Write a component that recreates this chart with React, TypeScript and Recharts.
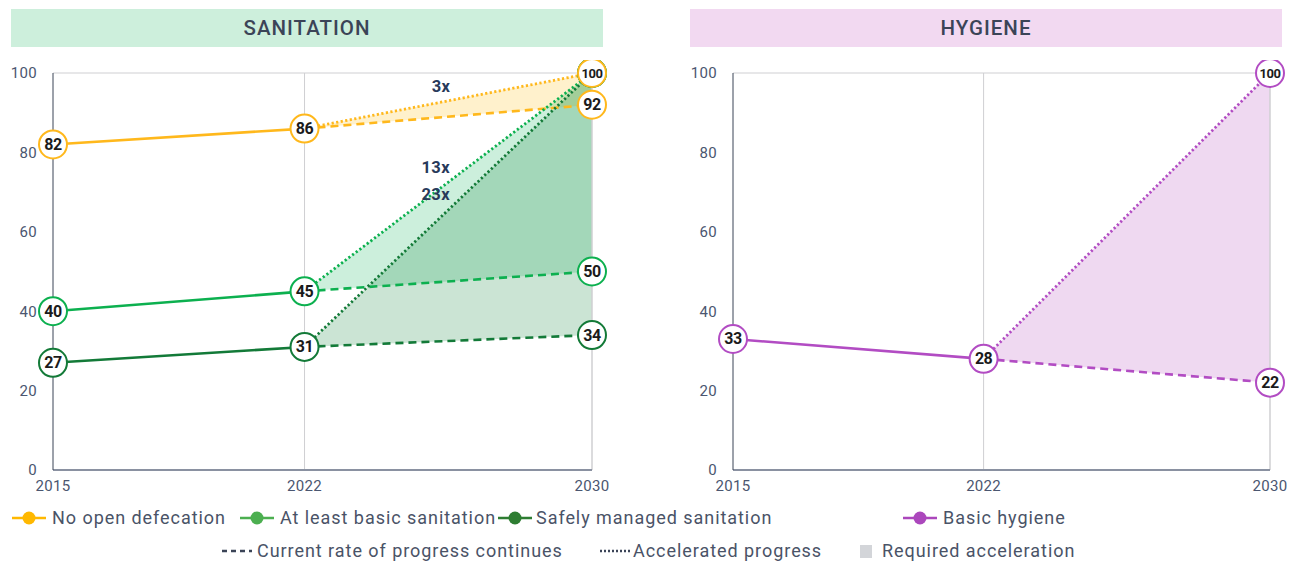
import React from 'react';
import {
  ComposedChart,
  Line,
  Area,
  XAxis,
  YAxis,
  ReferenceLine,
  ReferenceDot,
} from 'recharts';

// ---- data -------------------------------------------------------------
const years = [2015, 2022, 2030];
const yTicks = [0, 20, 40, 60, 80, 100];

// Sanitation (% of population)
const noOpenDefecation = [82, 86, null];
const noOpenDefecationCurrent = [null, 86, 92];
const noOpenDefecationAccelerated = [null, 86, 100];

const basicSanitation = [40, 45, null];
const basicSanitationCurrent = [null, 45, 50];
const basicSanitationAccelerated = [null, 45, 100];

const safelyManaged = [27, 31, null];
const safelyManagedCurrent = [null, 31, 34];
const safelyManagedAccelerated = [null, 31, 100];

// Hygiene (% of population)
const basicHygiene = [33, 28, null];
const basicHygieneCurrent = [null, 28, 22];
const basicHygieneAccelerated = [null, 28, 100];

// Required acceleration multipliers, placed in data coordinates
const sanitationMultipliers = [
  { text: '3x', year: 2025.8, value: 96.5 },
  { text: '13x', year: 2025.65, value: 76.3 },
  { text: '23x', year: 2025.65, value: 69.5 },
];

// ---- styling ----------------------------------------------------------
const FONT = 'Roboto, "Noto Sans", sans-serif';
const TICK_COLOR = '#4b5670';
const TEXT_COLOR = '#4a5367';

type Series = {
  color: string;
  fill: string;
  fillOpacity: number;
  actual: (number | null)[];
  current: (number | null)[];
  accelerated: (number | null)[];
};

const sanitationSeries: Series[] = [
  {
    color: '#FFB81C',
    fill: '#FFB800',
    fillOpacity: 0.2,
    actual: noOpenDefecation,
    current: noOpenDefecationCurrent,
    accelerated: noOpenDefecationAccelerated,
  },
  {
    color: '#0CB04F',
    fill: '#00B050',
    fillOpacity: 0.2,
    actual: basicSanitation,
    current: basicSanitationCurrent,
    accelerated: basicSanitationAccelerated,
  },
  {
    color: '#137A38',
    fill: '#1E8C45',
    fillOpacity: 0.23,
    actual: safelyManaged,
    current: safelyManagedCurrent,
    accelerated: safelyManagedAccelerated,
  },
];

const hygieneSeries: Series[] = [
  {
    color: '#B24CC3',
    fill: '#B450C0',
    fillOpacity: 0.22,
    actual: basicHygiene,
    current: basicHygieneCurrent,
    accelerated: basicHygieneAccelerated,
  },
];

function buildRows(series: Series[]) {
  return years.map((year, i) => {
    const row: Record<string, any> = { year };
    series.forEach((s, k) => {
      row[`a${k}`] = s.actual[i];
      row[`c${k}`] = s.current[i];
      row[`x${k}`] = s.accelerated[i];
      const lo = s.current[i];
      const hi = s.accelerated[i];
      row[`b${k}`] = lo != null && hi != null ? [lo, hi] : null;
    });
    return row;
  });
}

// Circled value marker, shown only for the given years
const makeDot = (color: string, shownYears: number[]) => (props: any) => {
  const { cx, cy, payload, value, index } = props;
  if (value == null || cx == null || !shownYears.includes(payload.year)) {
    return <g key={`d-${index}`} />;
  }
  const big = value >= 100;
  return (
    <g key={`d-${index}`}>
      <circle cx={cx} cy={cy} r={14} fill="#fff" stroke={color} strokeWidth={2} />
      <text
        x={cx}
        y={cy}
        textAnchor="middle"
        dominantBaseline="central"
        fontSize={big ? 13 : 16}
        fontWeight={700}
        fontFamily={FONT}
        letterSpacing={-0.5}
        fill="#1b1b1b"
      >
        {value}
      </text>
    </g>
  );
};

type PanelProps = {
  title: string;
  headerBg: string;
  headerLeft: number;
  left: number;
  width: number;
  marginRight: number;
  series: Series[];
  multipliers: { text: string; year: number; value: number }[];
};

function Panel({ title, headerBg, headerLeft, left, width, marginRight, series, multipliers }: PanelProps) {
  const rows = buildRows(series);
  const topFirst = series.map((s, k) => ({ s, k })).reverse();
  return (
    <>
      <div
        style={{
          position: 'absolute',
          left: headerLeft,
          top: 9,
          width: 592,
          height: 38,
          background: headerBg,
          display: 'flex',
          alignItems: 'center',
          justifyContent: 'center',
          color: '#3b4457',
          fontSize: 20.5,
          fontWeight: 500,
          fontFamily: FONT,
          letterSpacing: 1,
        }}
      >
        {title}
      </div>
      <div style={{ position: 'absolute', left, top: 60 }}>
        <ComposedChart
          width={width}
          height={440}
          data={rows}
          margin={{ top: 13, right: marginRight, bottom: 0, left: 0 }}
          style={{ overflow: 'visible' }}
        >
          <XAxis
            dataKey="year"
            type="number"
            domain={[2015, 2030]}
            ticks={years}
            height={30}
            tickLine={false}
            axisLine={{ stroke: '#8a91a1', strokeWidth: 2 }}
            tick={{ fill: TICK_COLOR, fontSize: 15, fontFamily: FONT, letterSpacing: 0.3 }}
            tickMargin={4}
          />
          <YAxis
            type="number"
            domain={[0, 100]}
            ticks={yTicks}
            width={53}
            tickLine={false}
            axisLine={{ stroke: '#3b4457', strokeWidth: 1 }}
            tick={{ fill: TICK_COLOR, fontSize: 15, fontFamily: FONT, letterSpacing: 0.3 }}
            tickMargin={10}
          />
          <ReferenceLine y={100} stroke="#cfcfd2" strokeWidth={1} />
          <ReferenceLine x={2022} stroke="#cfcfd2" strokeWidth={1} />
          <ReferenceLine x={2030} stroke="#cfcfd2" strokeWidth={1.5} />

          {series.map((s, k) => (
            <Area
              key={`band-${k}`}
              dataKey={`b${k}`}
              type="linear"
              stroke="none"
              fill={s.fill}
              fillOpacity={s.fillOpacity}
              isAnimationActive={false}
              dot={false}
              activeDot={false}
            />
          ))}
          {series.map((s, k) => (
            <Line
              key={`cur-${k}`}
              dataKey={`c${k}`}
              type="linear"
              stroke={s.color}
              strokeWidth={2.6}
              strokeDasharray="8 5"
              dot={false}
              activeDot={false}
              isAnimationActive={false}
            />
          ))}
          {series.map((s, k) => (
            <Line
              key={`acc-${k}`}
              dataKey={`x${k}`}
              type="linear"
              stroke={s.color}
              strokeWidth={2.8}
              strokeDasharray="2.2 2.4"
              dot={false}
              activeDot={false}
              isAnimationActive={false}
            />
          ))}
          {series.map((s, k) => (
            <Line
              key={`act-${k}`}
              dataKey={`a${k}`}
              type="linear"
              stroke={s.color}
              strokeWidth={2.6}
              dot={false}
              activeDot={false}
              isAnimationActive={false}
            />
          ))}
          {multipliers.map((m, i) => (
            <ReferenceDot
              key={`m-${i}`}
              x={m.year}
              y={m.value}
              r={0}
              shape={(p: any) => (
                <text
                  x={p.cx}
                  y={p.cy}
                  textAnchor="middle"
                  dominantBaseline="central"
                  fontSize={16.5}
                  fontWeight={700}
                  fontFamily={FONT}
                  letterSpacing={0.4}
                  fill="#283a5a"
                >
                  {m.text}
                </text>
              )}
            />
          ))}
          {/* value markers on top of every line */}
          {series.map((s, k) => (
            <Line
              key={`dc-${k}`}
              dataKey={`c${k}`}
              stroke="none"
              dot={makeDot(s.color, [2030])}
              activeDot={false}
              isAnimationActive={false}
            />
          ))}
          {series.map((s, k) => (
            <Line
              key={`da-${k}`}
              dataKey={`a${k}`}
              stroke="none"
              dot={makeDot(s.color, [2015, 2022])}
              activeDot={false}
              isAnimationActive={false}
            />
          ))}
          {topFirst.map(({ s, k }) => (
            <Line
              key={`dx-${k}`}
              dataKey={`x${k}`}
              stroke="none"
              dot={makeDot(s.color, [2030])}
              activeDot={false}
              isAnimationActive={false}
            />
          ))}
        </ComposedChart>
      </div>
    </>
  );
}

// ---- legend -----------------------------------------------------------
const LineIcon = ({ color }: { color: string }) => (
  <svg width={34} height={16} style={{ display: 'block' }}>
    <line x1={0} y1={8} x2={34} y2={8} stroke={color} strokeWidth={2.5} />
    <circle cx={17} cy={8} r={6.5} fill={color} />
  </svg>
);

const DashIcon = ({ dash }: { dash: string }) => (
  <svg width={30} height={16} style={{ display: 'block' }}>
    <line x1={0} y1={8} x2={30} y2={8} stroke="#3b4457" strokeWidth={2.5} strokeDasharray={dash} />
  </svg>
);

const legendRowOne = [
  { iconLeft: 12, textLeft: 52, color: '#FFB800', label: 'No open defecation' },
  { iconLeft: 240, textLeft: 280, color: '#4CAF50', label: 'At least basic sanitation' },
  { iconLeft: 498, textLeft: 536, color: '#2E7D32', label: 'Safely managed sanitation' },
  { iconLeft: 903, textLeft: 943, color: '#AB47BC', label: 'Basic hygiene' },
];

function Legend() {
  const textStyle: React.CSSProperties = {
    position: 'absolute',
    fontFamily: FONT,
    fontSize: 18,
    fontWeight: 400,
    letterSpacing: 0.95,
    lineHeight: '20px',
    color: TEXT_COLOR,
    whiteSpace: 'nowrap',
  };
  return (
    <>
      {legendRowOne.map((item) => (
        <React.Fragment key={item.label}>
          <div style={{ position: 'absolute', left: item.iconLeft, top: 510 }}>
            <LineIcon color={item.color} />
          </div>
          <div style={{ ...textStyle, left: item.textLeft, top: 508 }}>{item.label}</div>
        </React.Fragment>
      ))}
      <div style={{ position: 'absolute', left: 222, top: 543 }}>
        <DashIcon dash="5 4" />
      </div>
      <div style={{ ...textStyle, left: 257, top: 541 }}>Current rate of progress continues</div>
      <div style={{ position: 'absolute', left: 600, top: 543 }}>
        <DashIcon dash="2 2" />
      </div>
      <div style={{ ...textStyle, left: 633, top: 541 }}>Accelerated progress</div>
      <div
        style={{ position: 'absolute', left: 860, top: 545, width: 12, height: 13, background: '#d3d5d9' }}
      />
      <div style={{ ...textStyle, left: 882, top: 541 }}>Required acceleration</div>
    </>
  );
}

export default function App() {
  return (
    <div
      style={{
        position: 'absolute',
        left: 0,
        top: 0,
        width: 1291,
        height: 562,
        background: '#fff',
        overflow: 'hidden',
      }}
    >
      <Panel
        title="SANITATION"
        headerBg="#CDEFDC"
        headerLeft={11}
        left={0}
        width={620}
        marginRight={28}
        series={sanitationSeries}
        multipliers={sanitationMultipliers}
      />
      <Panel
        title="HYGIENE"
        headerBg="#F2D9F1"
        headerLeft={690}
        left={680}
        width={611}
        marginRight={21}
        series={hygieneSeries}
        multipliers={[]}
      />
      <Legend />
    </div>
  );
}
